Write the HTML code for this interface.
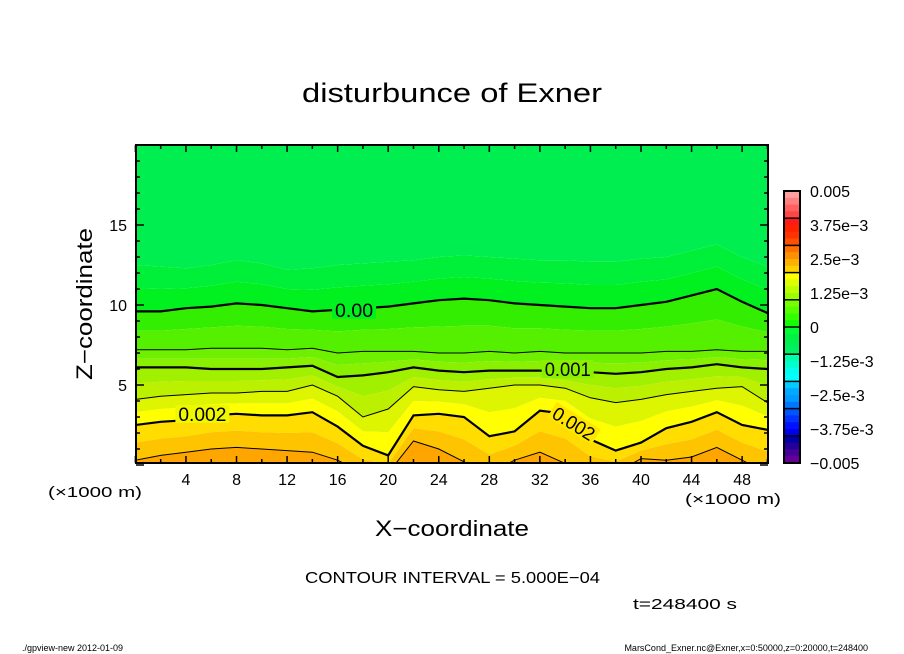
<!DOCTYPE html>
<html><head><meta charset="utf-8">
<style>
body{margin:0;background:#fff;}
svg{display:block;font-family:"Liberation Sans","DejaVu Sans",sans-serif;}
</style></head>
<body>
<svg id="chart" width="904" height="654" viewBox="0 0 904 654">
<rect width="904" height="654" fill="#fff"/>
<text x="302" y="102" font-size="27" textLength="300" lengthAdjust="spacingAndGlyphs">disturbunce of Exner</text>
<defs><clipPath id="pc"><rect x="136" y="145" width="632" height="318"/></clipPath></defs>
<g id="fills" clip-path="url(#pc)"></g>
<g id="lines" clip-path="url(#pc)"></g>
<g id="axes"></g>
<g id="cbar"></g>
<text x="48" y="497" font-size="15" textLength="94" lengthAdjust="spacingAndGlyphs">(×1000 m)</text>
<text x="685" y="504" font-size="15" textLength="96" lengthAdjust="spacingAndGlyphs">(×1000 m)</text>
<text x="375" y="536" font-size="22" textLength="154" lengthAdjust="spacingAndGlyphs">X−coordinate</text>
<text transform="translate(92,380) rotate(-90)" font-size="22" textLength="152" lengthAdjust="spacingAndGlyphs">Z−coordinate</text>
<text x="305" y="583" font-size="16" textLength="295" lengthAdjust="spacingAndGlyphs">CONTOUR INTERVAL = 5.000E−04</text>
<text x="633" y="609" font-size="15" textLength="104" lengthAdjust="spacingAndGlyphs">t=248400 s</text>
<text x="22" y="651" font-size="9">./gpview-new  2012-01-09</text>
<text x="868" y="651" font-size="9" text-anchor="end">MarsCond_Exner.nc@Exner,x=0:50000,z=0:20000,t=248400</text>
</svg>
<script>
// ---- data ----
const xs = [0,2,4,6,8,10,12,14,16,18,20,22,24,26,28,30,32,34,36,38,40,42,44,46,48,50];
const lev0   = [9.6,9.6,9.8,9.9,10.1,10.0,9.8,9.6,9.7,9.8,9.9,10.1,10.3,10.4,10.3,10.1,10.0,9.9,9.8,9.8,10.0,10.2,10.6,11.0,10.2,9.5];
const lev05  = [7.2,7.2,7.2,7.3,7.3,7.3,7.2,7.3,7.0,7.1,7.1,7.1,7.0,7.0,7.1,7.0,7.1,7.0,7.0,7.0,7.0,7.1,7.1,7.2,7.1,7.1];
const lev1   = [6.1,6.1,6.1,6.0,6.0,6.0,6.1,6.2,5.5,5.6,5.8,6.1,5.9,5.8,5.9,5.9,5.9,5.8,5.8,5.7,5.8,6.0,6.1,6.3,6.1,6.0];
const lev15  = [4.1,4.3,4.4,4.5,4.5,4.6,4.6,5.0,4.3,3.0,3.5,4.9,4.7,4.6,4.8,5.0,5.0,4.8,4.2,3.9,4.1,4.4,4.6,4.8,4.9,3.9];
const lev2   = [2.5,2.7,2.8,3.1,3.2,3.1,3.1,3.3,2.4,1.2,0.6,3.1,3.2,3.0,1.8,2.1,3.4,3.2,1.6,0.9,1.4,2.3,2.7,3.3,2.5,2.2];
const lev25  = [0.3,0.6,0.8,1.0,1.1,1.0,0.9,0.8,0.3,-0.5,-0.5,1.5,1.0,0.2,-0.5,0.3,0.8,0.1,-0.5,-0.5,0.4,0.3,0.5,1.1,0.3,-0.5];
const levTop = [12.5,12.4,12.3,12.5,12.8,12.6,12.2,12.3,12.5,12.6,12.7,12.8,13.0,13.1,13.0,12.9,12.8,12.8,12.7,12.7,12.9,13.0,13.4,13.8,13.0,12.4];
const cbLabels = ["0.005","3.75e-3","2.5e-3","1.25e-3","0","-1.25e-3","-2.5e-3","-3.75e-3","-0.005"];
const cbColors = ["#ffa0a0","#ff8080","#ff6060","#ff4545","#ff1a1a","#ff2200","#ff3300","#ff5000",
  "#ff7000","#ff9000","#ffb000","#ffd000","#ffff00","#ddff00","#bbff00","#99ff00",
  "#77ff00","#55ff00","#33ff00","#11ff00","#00ff33","#00f044","#00f055","#00f066",
  "#00ffaa","#00ffcc","#00ffee","#00ffff","#00ccff","#00aaff","#0099ff","#0077ff",
  "#0055ff","#0033ff","#0011ff","#0000ee","#0000aa","#220099","#440099","#660099"];
const xTicks = [4,8,12,16,20,24,28,32,36,40,44,48];
const zTicks = [5,10,15];

// ---- axes functions ----
const X = v => 135.4 + v*12.64;
const Z = v => 465 - v*16;
const NS = "http://www.w3.org/2000/svg";
function mk(tag, attrs, parent){const e=document.createElementNS(NS,tag);for(const k in attrs)e.setAttribute(k,attrs[k]);parent.appendChild(e);return e;}
const fills=document.getElementById('fills'), lines=document.getElementById('lines'), axes=document.getElementById('axes'), cbar=document.getElementById('cbar');
const mid=(a,b)=>a.map((v,i)=>(v+b[i])/2);
function pts(arr){return xs.map((x,i)=>X(x).toFixed(1)+","+Z(arr[i]).toFixed(1));}
function band(lo, hi, color){
  const p = pts(hi).concat(pts(lo).reverse());
  const e = mk('polygon',{points:p.join(' '),fill:color},fills);
  
  
}
const bottomEdge = xs.map(()=>-2), topEdge = xs.map(()=>22);
const mTop = mid(lev0, levTop);
band(levTop, topEdge, "#00ee50");
band(mTop, levTop, "#00f03a");
band(lev0, mTop, "#00f020");
band(mid(lev05,lev0), lev0, "#33ee00");
band(lev05, mid(lev05,lev0), "#55f000");
band(mid(lev1,lev05), lev05, "#6ef000");
band(lev1, mid(lev1,lev05), "#88f000");
band(mid(lev15,lev1), lev1, "#a0f000");
band(lev15, mid(lev15,lev1), "#bbf000");
band(mid(lev2,lev15), lev15, "#ddf500");
band(lev2, mid(lev2,lev15), "#ffff00");
band(mid(lev25,lev2), lev2, "#ffdd00");
band(lev25, mid(lev25,lev2), "#ffc400");
band(bottomEdge, lev25, "#ffa500");

function line(arr, w, name){
  const e = mk('polyline',{points:pts(arr).join(' '),fill:'none',stroke:'#000','stroke-width':w},lines);
  
  
}
line(lev0,2.2,'contour-0-000');
line(lev05,1,'contour-0-0005');
line(lev1,2.2,'contour-0-001');
line(lev15,1,'contour-0-0015');
line(lev2,2.2,'contour-0-002');
line(lev25,1,'contour-0-0025');

function clabel(x,z,t,rot,w,bg){
  const tr = rot?`rotate(${rot} ${X(x)} ${Z(z)})`:null;
  const bA = {x:X(x)-w/2-3,y:Z(z)-9,width:w+6,height:18,fill:bg};
  if(tr) bA.transform=tr;
  mk('rect',bA,axes);
  const a = {x:X(x),y:Z(z)+7,'font-size':19,'text-anchor':'middle',textLength:w,lengthAdjust:'spacingAndGlyphs'};
  if(tr) a.transform=tr;
  const e = mk('text',a,axes);
  e.textContent=t;
  
  
}
clabel(17.3,9.7,"0.00",0,38,"#00f020");
clabel(34.2,6.0,"0.001",0,46,"#88f000");
clabel(5.3,3.2,"0.002",0,48,"#eef800");
clabel(34.7,2.6,"0.002",32,46,"#ffe600");

// frame
mk('rect',{x:136,y:145,width:632,height:318,fill:'none',stroke:'#000','stroke-width':2},axes);
for(let v=0; v<=50; v+=2){
  const L = (v%4===0)?7:4;
  mk('line',{x1:X(v),y1:463,x2:X(v),y2:463-L,stroke:'#000','stroke-width':1.5},axes);
  mk('line',{x1:X(v),y1:145,x2:X(v),y2:145+L,stroke:'#000','stroke-width':1.5},axes);
}
for(let v=0; v<=20; v+=1){
  const L = (v%5===0)?8:4;
  mk('line',{x1:136,y1:Z(v),x2:136+L,y2:Z(v),stroke:'#000','stroke-width':1.5},axes);
  mk('line',{x1:768,y1:Z(v),x2:768-L,y2:Z(v),stroke:'#000','stroke-width':1.5},axes);
}
xTicks.forEach(v=>{
  const e=mk('text',{x:X(v),y:485,'font-size':16,'text-anchor':'middle'},axes);
  e.textContent=v;
  
  
});
zTicks.forEach(v=>{
  const e=mk('text',{x:127,y:Z(v)+6,'font-size':16,'text-anchor':'end'},axes);
  e.textContent=v;
  
  
});

// colorbar
const cx=784, cw=16, cy0=191, cy1=463;
const n=cbColors.length, bh=(cy1-cy0)/n;
for(let i=0;i<n;i++){
  const e=mk('rect',{x:cx,y:cy0+i*bh,width:cw,height:bh+0.5,fill:cbColors[i]},cbar);
  
  
}
for(let i=4;i<n;i+=4){
  mk('line',{x1:cx,y1:cy0+i*bh,x2:cx+cw,y2:cy0+i*bh,stroke:'#000','stroke-width':1.5},cbar);
}
for(let i=0;i<cbLabels.length;i++){
  const y=cy0+i*(cy1-cy0)/(cbLabels.length-1);
  const e=mk('text',{x:810,y:y+6,'font-size':16},cbar);
  e.textContent=cbLabels[i].replace('-','−');
  
  
}
mk('rect',{x:cx,y:cy0,width:cw,height:cy1-cy0,fill:'none',stroke:'#000','stroke-width':2},cbar);
</script>
</body></html>
